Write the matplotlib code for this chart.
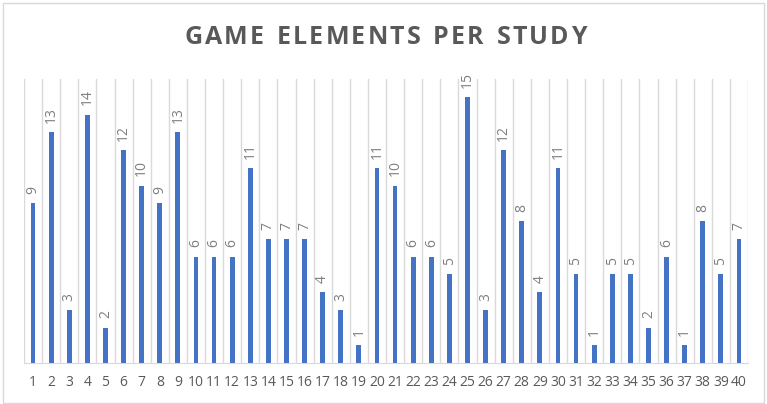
import matplotlib
matplotlib.use("Agg")
import matplotlib.pyplot as plt
from matplotlib.patches import Rectangle

studies = [str(i) for i in range(1, 41)]
elements = [9, 13, 3, 14, 2, 12, 10, 9, 13, 6, 6, 6, 11, 7, 7, 7, 4, 3, 1, 11,
            10, 6, 6, 5, 15, 3, 12, 8, 4, 11, 5, 1, 5, 5, 2, 6, 1, 8, 5, 7]
title = "GAME ELEMENTS PER STUDY"

bar_color = "#4472C4"
label_color = "#7F7F7F"
text_color = "#595959"
grid_color = "#D9D9D9"
W, H = 767, 404

fig = plt.figure(figsize=(W / 100, H / 100), dpi=100)
ax = fig.add_axes([24 / W, 1 - 363 / H, 724 / W, 284 / H])

x = list(range(len(studies)))
ax.bar(x, elements, width=0.27, color=bar_color, zorder=3)

for xi, v in zip(x, elements):
    ax.annotate(str(v), (xi, v), xytext=(0, 6.5), textcoords="offset points",
                rotation=90, ha="center", va="bottom", fontsize=10,
                color=label_color, family="Open Sans", zorder=4)

ax.set_xlim(-0.5, len(studies) - 0.5)
ax.set_ylim(0, 16)

# vertical separators between categories
for b in range(len(studies) + 1):
    ax.axvline(b - 0.5, color=grid_color, lw=1, zorder=1)

ax.set_yticks([])
ax.set_xticks(x)
ax.set_xticklabels(studies, fontsize=10, color=text_color, family="Open Sans")
ax.tick_params(axis="x", length=0, pad=9)
for s in ["top", "left", "right"]:
    ax.spines[s].set_visible(False)
ax.spines["bottom"].set_color(grid_color)
ax.spines["bottom"].set_zorder(2)

# letter-spaced title
renderer = fig.canvas.get_renderer()
spacing = 2.2  # px between characters
props = dict(fontsize=18, fontweight="bold", color=text_color, family="Open Sans",
             va="center", ha="left")
widths = []
for ch in title:
    t = fig.text(0, 0, ch if ch != " " else "n", **props)
    w = t.get_window_extent(renderer).width
    if ch == " ":
        w *= 0.5
    widths.append(w)
    t.remove()
total = sum(widths) + spacing * (len(title) - 1)
xpos = (W - total) / 2 + 2
ty = 1 - 37 / H
for ch, w in zip(title, widths):
    if ch != " ":
        fig.text(xpos / W, ty, ch, **props)
    xpos += w + spacing

fig.patches.append(Rectangle((3 / W, 1 / H), 1 - 6 / W, 1 - 4 / H,
                             transform=fig.transFigure, fill=False,
                             edgecolor=grid_color, lw=1))

fig.savefig("out.png", dpi=100, facecolor="white")
